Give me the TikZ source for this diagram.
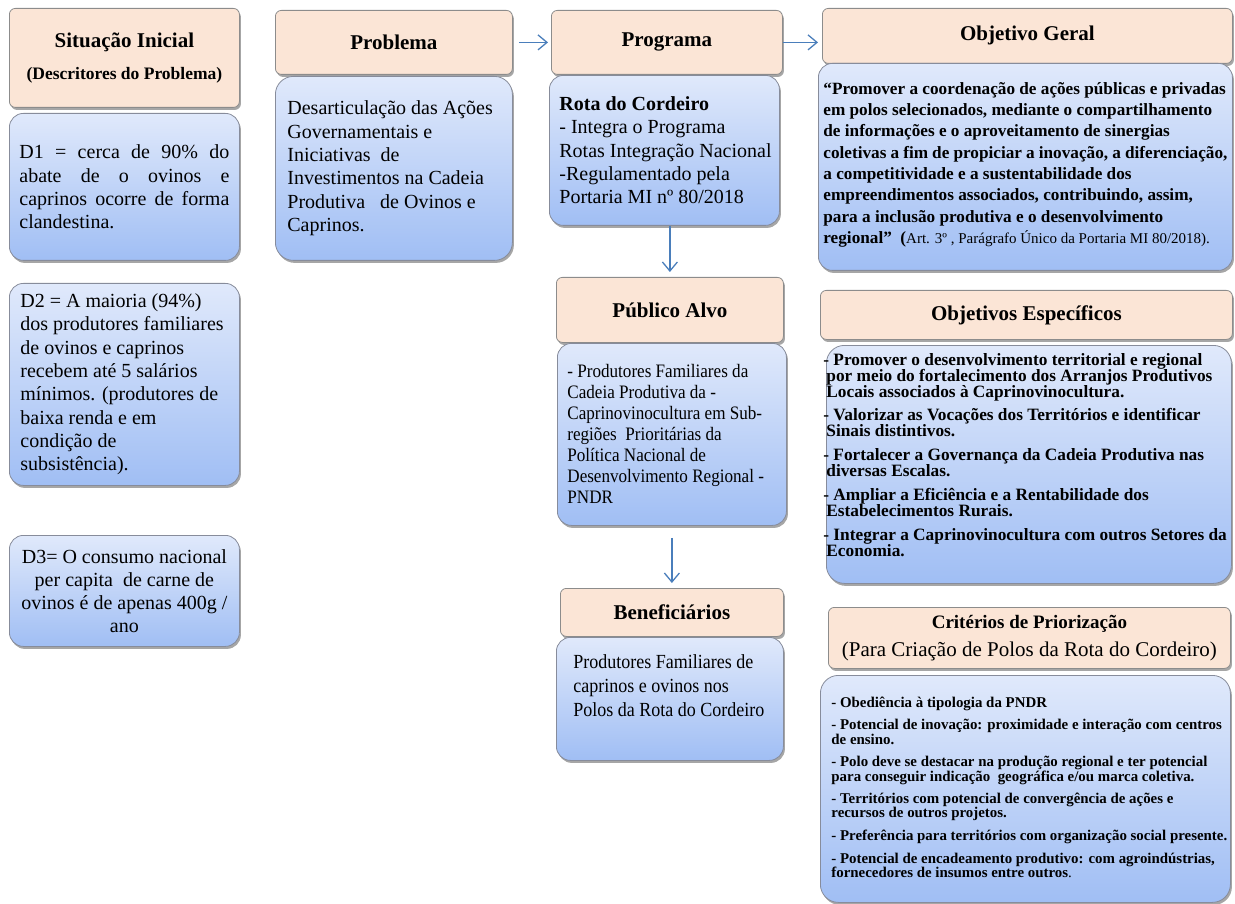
\documentclass[tikz,border=0pt]{standalone}
\usepackage{fontspec}
\setmainfont{Liberation Serif}
\newfontfamily\narrowfont[FakeStretch=0.9]{Liberation Serif}
\usetikzlibrary{shadows,arrows.meta}
\definecolor{hdrfill}{RGB}{251,229,214}
\definecolor{hdrline}{RGB}{140,140,140}
\definecolor{bodytop}{RGB}{224,233,251}
\definecolor{bodybot}{RGB}{160,190,244}
\definecolor{bodyline}{RGB}{135,140,155}
\definecolor{arrblue}{RGB}{74,126,187}
\tikzset{
  hdr/.style={draw=hdrline, line width=0.8pt, fill=hdrfill, rounded corners=6pt,
    anchor=north west, inner sep=0pt, align=center,
    font=\fontsize{21}{25}\selectfont\bfseries,
    drop shadow={shadow xshift=1.5pt, shadow yshift=-2.5pt, opacity=0.35, fill=black}},
  bodybox/.style={draw=bodyline, line width=0.8pt, top color=bodytop, bottom color=bodybot,
    rounded corners=14pt, anchor=north west, inner ysep=0pt,
    drop shadow={shadow xshift=1.5pt, shadow yshift=-2.5pt, opacity=0.35, fill=black}},
  arr/.style={draw=arrblue, line width=1.3pt, -{Straight Barb[length=9pt,width=15pt]}}
}
\begin{document}
\begin{tikzpicture}[x=1pt,y=-1pt]
\useasboundingbox (0,0) rectangle (1235,904);

% ---- Situacao inicial
\node[hdr, minimum width=230pt, minimum height=99pt] (sith) at (9,8)
  {Situação Inicial\\[7pt]{\fontsize{17.5}{21}\selectfont (Descritores do Problema)}};
\node[bodybox, inner xsep=10pt, font=\fontsize{20}{23.3}\selectfont] (d1) at (9,113)
  {\parbox[c][147pt][c]{210pt}{%
   \makebox[\linewidth][s]{D1 = cerca de 90\% do}\\
   \makebox[\linewidth][s]{abate de o ovinos e}\\
   \makebox[\linewidth][s]{caprinos ocorre de forma}\\
   clandestina.}};
\node[bodybox, inner xsep=11pt, font=\fontsize{20}{23.3}\selectfont] (d2) at (9,283)
  {\parbox[c][202pt][c]{208pt}{\raggedright
   D2 = A maioria (94\%)\\
   dos produtores familiares\\
   de ovinos e caprinos\\
   recebem até 5 salários\\
   mínimos. (produtores de\\
   baixa renda e em\\
   condição de\\
   subsistência).}};
\node[bodybox, inner xsep=6pt, font=\fontsize{20}{23}\selectfont] (d3) at (9,535)
  {\parbox[c][111pt][c]{218pt}{\centering
   D3= O consumo nacional\\
   per capita~ de carne de\\
   ovinos é de apenas 400g /\\
   ano}};

% ---- Problema
\node[hdr, minimum width=237pt, minimum height=64pt] (probh) at (275,10) {Problema};
\node[bodybox, inner xsep=12pt, rounded corners=18pt, font=\fontsize{20}{23.3}\selectfont] (probb) at (275,76)
  {\parbox[c][184pt][c]{213pt}{\raggedright
   Desarticulação das Ações\\
   Governamentais e\\
   Iniciativas~ de\\
   Investimentos na Cadeia\\
   Produtiva~~ de Ovinos e\\
   Caprinos.}};

% ---- Programa
\node[hdr, minimum width=231pt, minimum height=64pt] (progh) at (551,10) {Programa};
\node[bodybox, inner xsep=10pt, font=\fontsize{20}{23.3}\selectfont] (progb) at (549,75)
  {\parbox[c][150pt][c]{210pt}{\raggedright
   \textbf{Rota do Cordeiro}\\
   - Integra o Programa\\
   \makebox[210pt][l]{Rotas Integração Nacional}\\
   -Regulamentado pela\\
   Portaria MI nº 80/2018}};

% ---- Publico alvo
\node[hdr, minimum width=227pt, minimum height=65pt] (pubh) at (556,277) {Público Alvo};
\node[bodybox, inner xsep=10pt, font=\narrowfont\fontsize{19}{21}\selectfont] (pubb) at (557,343)
  {\parbox[c][182pt][c]{209pt}{\raggedright
   - Produtores Familiares da\\
   Cadeia Produtiva da -\\
   Caprinovinocultura em Sub-\\
   regiões~ Prioritárias da\\
   Política Nacional de\\
   Desenvolvimento Regional -\\
   PNDR}};

% ---- Beneficiarios
\node[hdr, minimum width=223pt, minimum height=48pt] (benh) at (560,588) {Beneficiários};
\node[bodybox, inner xsep=17pt, font=\narrowfont\fontsize{20}{24}\selectfont] (benb) at (556,637)
  {\parbox[c][123pt][t]{193pt}{\raggedright\vspace*{17pt}%
   Produtores Familiares de\\
   caprinos e ovinos nos\\
   Polos da Rota do Cordeiro}};

% ---- Objetivo geral
\node[hdr, minimum width=410pt, minimum height=55pt] (ogh) at (822,8) {Objetivo Geral};
\node[bodybox, inner xsep=5pt, font=\fontsize{17.2}{21.3}\selectfont\bfseries] (ogb) at (818,63)
  {\parbox[c][207pt][t]{404pt}{\raggedright\vspace*{19pt}%
   “Promover a coordenação de ações públicas e privadas\\
   em polos selecionados, mediante o compartilhamento\\
   de informações e o aproveitamento de sinergias\\
   coletivas a fim de propiciar a inovação, a diferenciação,\\
   a competitividade e a sustentabilidade dos\\
   empreendimentos associados, contribuindo, assim,\\
   para a inclusão produtiva e o desenvolvimento\\
   regional”~ ({\mdseries\fontsize{15}{18}\selectfont Art. 3º , Parágrafo Único da Portaria MI 80/2018).}}};

% ---- Objetivos especificos
\node[hdr, minimum width=412pt, minimum height=49pt] (oeh) at (820,290) {Objetivos Específicos};
\node[bodybox, rounded corners=18pt, inner xsep=0pt, font=\fontsize{17.3}{16}\selectfont\bfseries] (oeb) at (826,345)
  {\parbox[c][238pt][t]{405pt}{\raggedright\parskip=7.75pt\vspace*{0pt}%
   \mbox{\hspace*{-3pt}- Promover o desenvolvimento territorial e regional}\\
   \mbox{por meio do fortalecimento dos Arranjos Produtivos}\\
   \mbox{Locais associados à Caprinovinocultura.}\par
   \mbox{\hspace*{-3pt}- Valorizar as Vocações dos Territórios e identificar}\\
   \mbox{Sinais distintivos.}\par
   \mbox{\hspace*{-3pt}- Fortalecer a Governança da Cadeia Produtiva nas}\\
   \mbox{diversas Escalas.}\par
   \mbox{\hspace*{-3pt}- Ampliar a Eficiência e a Rentabilidade dos}\\
   \mbox{Estabelecimentos Rurais.}\par
   \mbox{\hspace*{-3pt}- Integrar a Caprinovinocultura com outros Setores da}\\
   \mbox{Economia.}}};

% ---- Criterios
\node[hdr, minimum width=402pt, minimum height=61pt] (cph) at (828,607)
  {{\fontsize{19}{22}\selectfont Critérios de Priorização}\\[3pt]
   {\mdseries\fontsize{21}{24}\selectfont (Para Criação de Polos da Rota do Cordeiro)}};
\node[bodybox, rounded corners=18pt, inner xsep=0pt, font=\fontsize{14.9}{14.3}\selectfont\bfseries] (cpb) at (820,675)
  {\parbox[c][227pt][t]{410pt}{\raggedright\leftskip=11pt\parskip=8.3pt\vspace*{13pt}%
   \mbox{- Obediência à tipologia da PNDR}\par
   \mbox{- Potencial de inovação: proximidade e interação com centros}\\
   \mbox{de ensino.}\par
   \mbox{- Polo deve se destacar na produção regional e ter potencial}\\
   \mbox{para conseguir indicação~ geográfica e/ou marca coletiva.}\par
   \mbox{- Territórios com potencial de convergência de ações e}\\
   \mbox{recursos de outros projetos.}\par
   \mbox{- Preferência para territórios com organização social presente.}\par
   \mbox{- Potencial de encadeamento produtivo: com agroindústrias,}\\
   \mbox{fornecedores de insumos entre outros{\mdseries .}}}};

% ---- connectors
\draw[arr, shorten <=6pt, shorten >=3pt] (probh.east) -- (progh.west);
\draw[arr, shorten >=4pt] (progh.east) -- (progh.east -| ogh.west);
\draw[arr, shorten >=5pt] (progb.south -| pubh.north) -- (pubh.north);
\draw[arr, shorten <=12pt, shorten >=5pt] (pubb.south -| benh.north) -- (benh.north);
\end{tikzpicture}
\end{document}
